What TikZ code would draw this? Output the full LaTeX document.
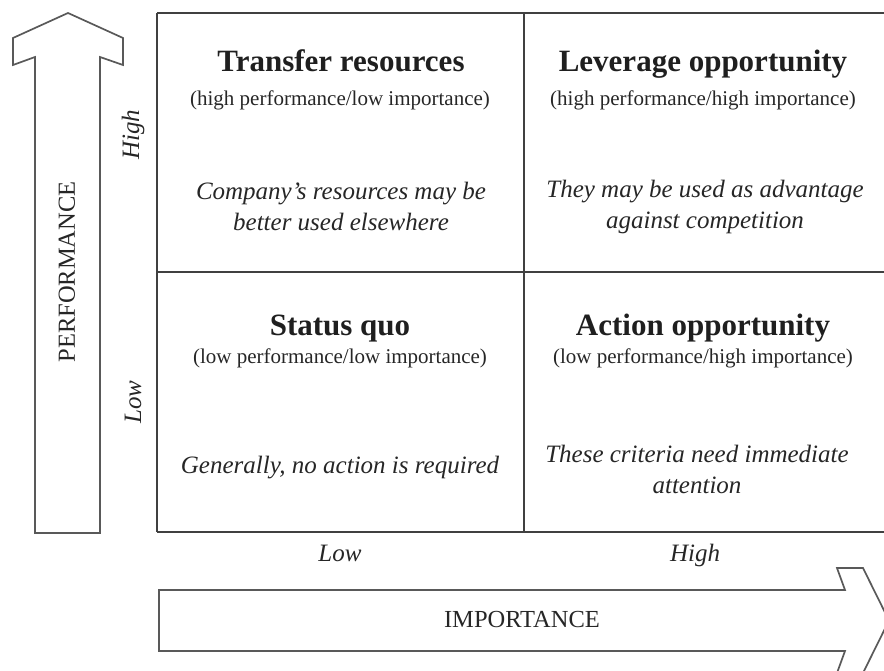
\documentclass[tikz,border=0pt]{standalone}
\usepackage{fontspec}
\setmainfont{Liberation Serif}
\begin{document}
\begin{tikzpicture}[x=1pt,y=-1pt,
  gridline/.style={draw=black!75,line width=1.6pt},
  bigarrow/.style={draw=black!65,line width=1.7pt,line join=miter},
  qtitle/.style={font=\fontsize{31}{35}\selectfont\bfseries,text=black!88,inner sep=0pt,anchor=base},
  qsub/.style={font=\fontsize{21}{25}\selectfont,text=black!85,inner sep=0pt},
  qnote/.style={font=\fontsize{25}{31}\selectfont\itshape,text=black!85,align=center,inner sep=0pt},
  axislabel/.style={font=\fontsize{24.5}{28}\selectfont,text=black!85,inner sep=0pt},
  levellabel/.style={font=\fontsize{25}{28}\selectfont\itshape,text=black!85,inner sep=0pt}]
\useasboundingbox (0,0) rectangle (884,671);
\begin{scope}
\clip (0,0) rectangle (884,671);
% grid
\draw[gridline] (157,13) -- (890,13);
\draw[gridline] (157,272) -- (890,272);
\draw[gridline] (157,532) -- (890,532);
\draw[gridline] (157,13) -- (157,532);
\draw[gridline] (524,13) -- (524,532);
% performance arrow
\draw[bigarrow] (35,533) -- (35,57) -- (13,65) -- (13,38) -- (68,13) -- (123,38) -- (123,65) -- (100,57) -- (100,533) -- cycle;
% importance arrow
\draw[bigarrow] (159,590) -- (845,590) -- (837,568) -- (863,568) -- (889,620.5) -- (863,673) -- (837,673) -- (845,651) -- (159,651) -- cycle;
\end{scope}
% axis labels
\node[axislabel,rotate=90] (perf) at (67,272) {PERFORMANCE};
\node[axislabel] (imp) at (522,620) {IMPORTANCE};
\node[levellabel,rotate=90] (phigh) at (133,135) {High};
\node[levellabel,rotate=90] (plow) at (133,402) {Low};
\node[levellabel,anchor=base] (ilow) at (340,561) {Low};
\node[levellabel,anchor=base] (ihigh) at (695,561) {High};
% top-left
\node[qtitle] (t1) at (341,72) {Transfer resources};
\node[qsub] (s1) at (340,100) {(high performance/low importance)};
\node[qnote] (n1) at (341,206) {Company’s resources may be\\better used elsewhere};
% top-right
\node[qtitle] (t2) at (703,72) {Leverage opportunity};
\node[qsub] (s2) at (703,100) {(high performance/high importance)};
\node[qnote] (n2) at (705,207) {They may be used as advantage\\against competition};
% bottom-left
\node[qtitle] (t3) at (340,335) {Status quo};
\node[qsub] (s3) at (340,358) {(low performance/low importance)};
\node[qnote] (n3) at (340,468) {Generally, no action is required};
% bottom-right
\node[qtitle] (t4) at (703,335) {Action opportunity};
\node[qsub] (s4) at (703,358) {(low performance/high importance)};
\node[qnote] (n4) at (697,469) {These criteria need immediate\\attention};
\end{tikzpicture}
\end{document}
